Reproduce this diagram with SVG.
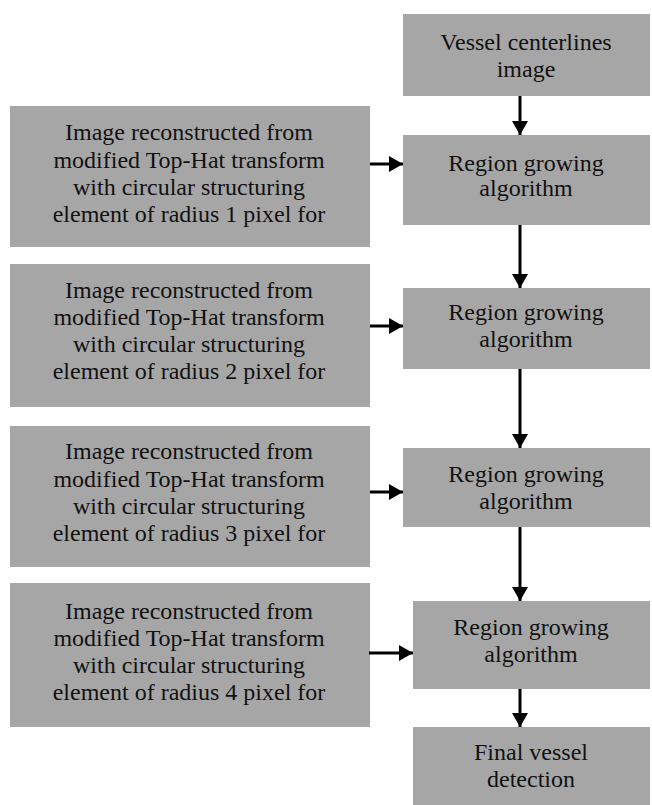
<svg xmlns="http://www.w3.org/2000/svg" width="652" height="805" viewBox="0 0 652 805">
<style>
.box{fill:#a6a6a6;}
.c{stroke:#000;stroke-width:3;fill:none;marker-end:url(#ah);}
</style>
<defs>
<marker id="ah" markerUnits="userSpaceOnUse" markerWidth="16" markerHeight="18" refX="14" refY="8" orient="auto">
<path d="M0,0 L14,8 L0,16 Z" fill="#000"/>
</marker>
</defs>
<rect width="652" height="805" fill="#fff"/>
<g id="vessel">
<rect class="box" x="403" y="14" width="247" height="82"/>
<text x="526" y="50" font-family="Liberation Serif" font-size="24" fill="#111" text-anchor="middle">Vessel centerlines</text>
<text x="526" y="77" font-family="Liberation Serif" font-size="24" fill="#111" text-anchor="middle">image</text>
</g>
<g id="left1">
<rect class="box" x="10" y="106" width="360" height="141"/>
<text x="189" y="140" font-family="Liberation Serif" font-size="24" fill="#111" text-anchor="middle">Image reconstructed from</text>
<text x="189" y="168" font-family="Liberation Serif" font-size="24" fill="#111" text-anchor="middle">modified Top-Hat transform</text>
<text x="189" y="195" font-family="Liberation Serif" font-size="24" fill="#111" text-anchor="middle">with circular structuring</text>
<text x="189" y="222" font-family="Liberation Serif" font-size="24" fill="#111" text-anchor="middle">element of radius 1 pixel for</text>
</g>
<g id="region1">
<rect class="box" x="403" y="135" width="247" height="90"/>
<text x="526" y="171" font-family="Liberation Serif" font-size="24" fill="#111" text-anchor="middle">Region growing</text>
<text x="526" y="196" font-family="Liberation Serif" font-size="24" fill="#111" text-anchor="middle">algorithm</text>
</g>
<g id="left2">
<rect class="box" x="10" y="264" width="360" height="143"/>
<text x="189" y="298" font-family="Liberation Serif" font-size="24" fill="#111" text-anchor="middle">Image reconstructed from</text>
<text x="189" y="325" font-family="Liberation Serif" font-size="24" fill="#111" text-anchor="middle">modified Top-Hat transform</text>
<text x="189" y="352" font-family="Liberation Serif" font-size="24" fill="#111" text-anchor="middle">with circular structuring</text>
<text x="189" y="379" font-family="Liberation Serif" font-size="24" fill="#111" text-anchor="middle">element of radius 2 pixel for</text>
</g>
<g id="region2">
<rect class="box" x="403" y="288" width="247" height="81"/>
<text x="526" y="320" font-family="Liberation Serif" font-size="24" fill="#111" text-anchor="middle">Region growing</text>
<text x="526" y="347" font-family="Liberation Serif" font-size="24" fill="#111" text-anchor="middle">algorithm</text>
</g>
<g id="left3">
<rect class="box" x="10" y="426" width="360" height="141"/>
<text x="189" y="459" font-family="Liberation Serif" font-size="24" fill="#111" text-anchor="middle">Image reconstructed from</text>
<text x="189" y="487" font-family="Liberation Serif" font-size="24" fill="#111" text-anchor="middle">modified Top-Hat transform</text>
<text x="189" y="514" font-family="Liberation Serif" font-size="24" fill="#111" text-anchor="middle">with circular structuring</text>
<text x="189" y="541" font-family="Liberation Serif" font-size="24" fill="#111" text-anchor="middle">element of radius 3 pixel for</text>
</g>
<g id="region3">
<rect class="box" x="403" y="448" width="247" height="79"/>
<text x="526" y="482" font-family="Liberation Serif" font-size="24" fill="#111" text-anchor="middle">Region growing</text>
<text x="526" y="509" font-family="Liberation Serif" font-size="24" fill="#111" text-anchor="middle">algorithm</text>
</g>
<g id="left4">
<rect class="box" x="10" y="583" width="360" height="144"/>
<text x="189" y="619" font-family="Liberation Serif" font-size="24" fill="#111" text-anchor="middle">Image reconstructed from</text>
<text x="189" y="646" font-family="Liberation Serif" font-size="24" fill="#111" text-anchor="middle">modified Top-Hat transform</text>
<text x="189" y="673" font-family="Liberation Serif" font-size="24" fill="#111" text-anchor="middle">with circular structuring</text>
<text x="189" y="700" font-family="Liberation Serif" font-size="24" fill="#111" text-anchor="middle">element of radius 4 pixel for</text>
</g>
<g id="region4">
<rect class="box" x="413" y="601" width="237" height="88"/>
<text x="531" y="635" font-family="Liberation Serif" font-size="24" fill="#111" text-anchor="middle">Region growing</text>
<text x="531" y="662" font-family="Liberation Serif" font-size="24" fill="#111" text-anchor="middle">algorithm</text>
</g>
<g id="final">
<rect class="box" x="413" y="727" width="237" height="78"/>
<text x="531" y="760" font-family="Liberation Serif" font-size="24" fill="#111" text-anchor="middle">Final vessel</text>
<text x="531" y="787" font-family="Liberation Serif" font-size="24" fill="#111" text-anchor="middle">detection</text>
</g>
<g id="connectors">
<line class="c" x1="520" y1="96" x2="520" y2="135"/>
<line class="c" x1="370" y1="164" x2="403" y2="164"/>
<line class="c" x1="520" y1="225" x2="520" y2="288"/>
<line class="c" x1="370" y1="326" x2="403" y2="326"/>
<line class="c" x1="520" y1="369" x2="520" y2="448"/>
<line class="c" x1="370" y1="492" x2="403" y2="492"/>
<line class="c" x1="520" y1="527" x2="520" y2="601"/>
<line class="c" x1="369" y1="653" x2="413" y2="653"/>
<line class="c" x1="520" y1="689" x2="520" y2="727"/>
</g>
</svg>
